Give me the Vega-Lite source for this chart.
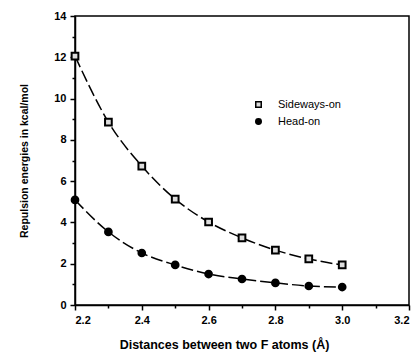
{
  "$schema": "https://vega.github.io/schema/vega-lite/v6.json",
  "autosize": "none",
  "width": 334,
  "height": 289,
  "padding": {"left": 75, "top": 16, "right": 8, "bottom": 51},
  "background": "white",
  "config": {
    "view": {"stroke": "black", "strokeWidth": 1.5},
    "font": "Liberation Sans"
  },
  "data": {
    "values": [
      {"d": 2.2, "E": 12.06, "type": "Sideways-on"},
      {"d": 2.3, "E": 8.86, "type": "Sideways-on"},
      {"d": 2.4, "E": 6.73, "type": "Sideways-on"},
      {"d": 2.5, "E": 5.13, "type": "Sideways-on"},
      {"d": 2.6, "E": 4.02, "type": "Sideways-on"},
      {"d": 2.7, "E": 3.25, "type": "Sideways-on"},
      {"d": 2.8, "E": 2.66, "type": "Sideways-on"},
      {"d": 2.9, "E": 2.23, "type": "Sideways-on"},
      {"d": 3.0, "E": 1.94, "type": "Sideways-on"},
      {"d": 2.2, "E": 5.09, "type": "Head-on"},
      {"d": 2.3, "E": 3.54, "type": "Head-on"},
      {"d": 2.4, "E": 2.52, "type": "Head-on"},
      {"d": 2.5, "E": 1.94, "type": "Head-on"},
      {"d": 2.6, "E": 1.5, "type": "Head-on"},
      {"d": 2.7, "E": 1.26, "type": "Head-on"},
      {"d": 2.8, "E": 1.07, "type": "Head-on"},
      {"d": 2.9, "E": 0.92, "type": "Head-on"},
      {"d": 3.0, "E": 0.87, "type": "Head-on"}
    ]
  },
  "encoding": {
    "x": {
      "field": "d", "type": "quantitative",
      "scale": {"domain": [2.2, 3.2], "nice": false, "zero": false},
      "axis": {
        "title": "Distances between two F atoms (Å)",
        "values": [2.2, 2.3, 2.4, 2.5, 2.6, 2.7, 2.8, 2.9, 3.0, 3.1, 3.2],
        "labelExpr": "round(datum.value*10)%2==0 ? format(datum.value,'.1f') : ''",
        "grid": false,
        "domainColor": "black", "domainWidth": 1.5,
        "tickColor": "black", "tickWidth": 1.5,
        "tickSize": {"condition": {"test": "round(datum.value*10)%2==0", "value": 5}, "value": 3},
        "labelFontSize": 11, "labelColor": "black", "labelFontWeight": "bold",
        "labelPadding": 4,
        "titleFontSize": 12.5, "titleColor": "black", "titleFontWeight": "bold",
        "titlePadding": 13, "titleX": 149
      }
    },
    "y": {
      "field": "E", "type": "quantitative",
      "scale": {"domain": [0, 14], "nice": false},
      "axis": {
        "title": "Repulsion energies in kcal/mol",
        "values": [0, 1, 2, 3, 4, 5, 6, 7, 8, 9, 10, 11, 12, 13, 14],
        "labelExpr": "datum.value%2==0 ? format(datum.value,'d') : ''",
        "grid": false,
        "domainColor": "black", "domainWidth": 1.5,
        "tickColor": "black", "tickWidth": 1.5,
        "tickSize": {"condition": {"test": "datum.value%2==0", "value": 5}, "value": 3},
        "labelFontSize": 11, "labelColor": "black", "labelFontWeight": "bold",
        "labelPadding": 4,
        "titleFontSize": 10.5, "titleColor": "black", "titleFontWeight": "bold",
        "titlePadding": 24
      }
    }
  },
  "layer": [
    {
      "mark": {"type": "line", "interpolate": "monotone", "color": "black", "strokeWidth": 1.5, "strokeDash": [12, 4]},
      "encoding": {"detail": {"field": "type"}}
    },
    {
      "mark": {"type": "point", "filled": false, "strokeWidth": 2, "opacity": 1},
      "encoding": {
        "shape": {
          "field": "type", "type": "nominal",
          "scale": {"domain": ["Sideways-on", "Head-on"], "range": ["square", "circle"]},
          "legend": {
            "title": null, "orient": "none", "legendX": 178, "legendY": 83,
            "labelFontSize": 11, "labelColor": "black", "labelFont": "Liberation Sans",
            "symbolSize": 30, "rowPadding": 4, "labelOffset": 14,
            "encode": {"symbols": {"update": {"stroke": {"value": "black"}, "strokeWidth": {"value": 2}}}}
          }
        },
        "fill": {
          "field": "type", "type": "nominal",
          "scale": {"domain": ["Sideways-on", "Head-on"], "range": ["#dddddd", "black"]},
          "legend": null
        },
        "stroke": {"value": "black"},
        "size": {"value": 45}
      }
    }
  ]
}
